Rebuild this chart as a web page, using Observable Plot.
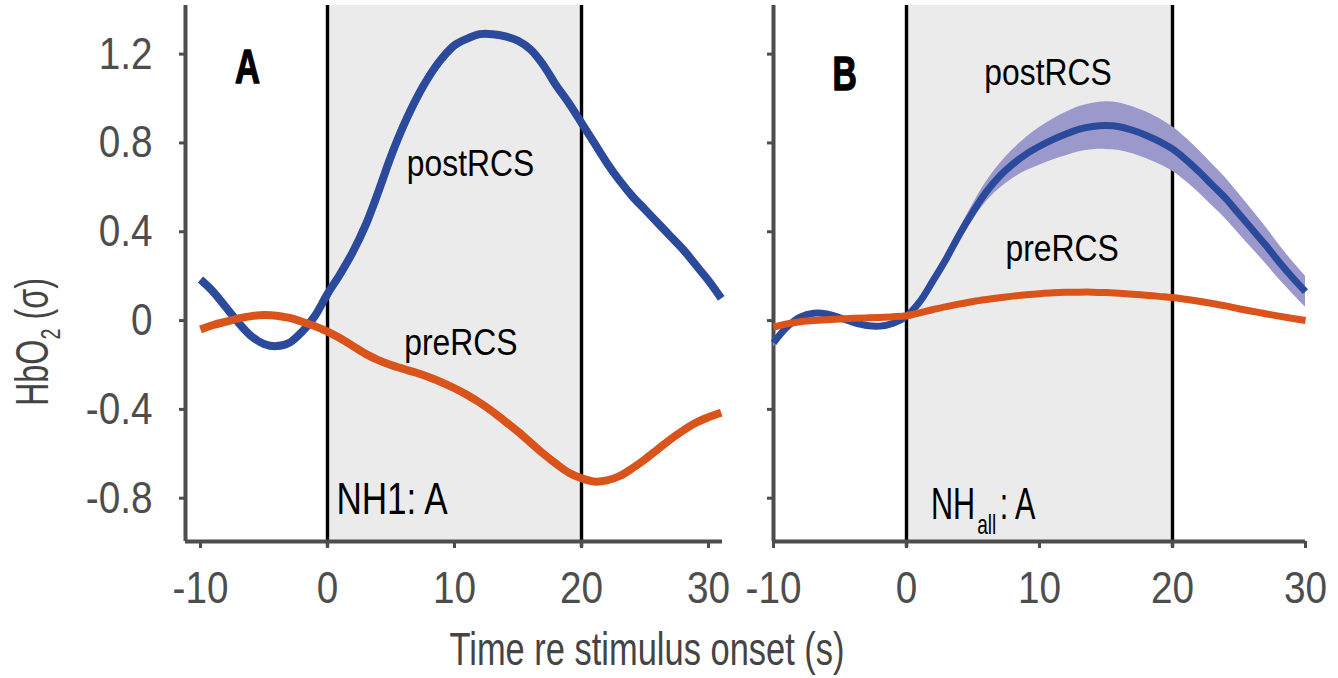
<!DOCTYPE html>
<html>
<head>
<meta charset="utf-8">
<script src="https://cdn.jsdelivr.net/npm/d3@7"></script>
<script src="https://cdn.jsdelivr.net/npm/@observablehq/plot@0.6"></script>
<style>
  body { margin: 0; background: #fff; }
  #root { position: relative; width: 1338px; height: 678px; overflow: hidden; background: #fff; }
  #root > svg { position: absolute; top: 0; }
  #overlay { left: 0; pointer-events: none; }
</style>
</head>
<body>
<div id="root"></div>
<script>
// ---------------- data ----------------
const timeA = [-10,-9,-8,-7,-6,-5,-4,-3,-2,-1,0,1,2,3,4,5,6,7,8,9,10,11,12,13,14,15,16,17,18,19,20,21,22,23,24,25,26,27,28,29,30,31];
const postA = [0.185,0.13,0.06,-0.01,-0.07,-0.105,-0.115,-0.10,-0.05,0.02,0.12,0.21,0.31,0.43,0.58,0.74,0.88,1.00,1.10,1.18,1.24,1.27,1.29,1.29,1.28,1.26,1.22,1.15,1.06,0.98,0.89,0.80,0.71,0.63,0.56,0.50,0.44,0.38,0.32,0.25,0.18,0.10];
const preA = [-0.04,-0.02,-0.005,0.01,0.02,0.025,0.022,0.012,-0.005,-0.025,-0.05,-0.08,-0.115,-0.15,-0.178,-0.20,-0.218,-0.235,-0.255,-0.278,-0.305,-0.335,-0.37,-0.41,-0.455,-0.50,-0.55,-0.60,-0.645,-0.685,-0.71,-0.725,-0.72,-0.70,-0.665,-0.625,-0.58,-0.535,-0.495,-0.46,-0.435,-0.415];

const timeB = [-10,-9,-8,-7,-6,-5,-4,-3,-2,-1,0,1,2,3,4,5,6,7,8,9,10,11,12,13,14,15,16,17,18,19,20,21,22,23,24,25,26,27,28,29,30];
const postB = [-0.10,-0.03,0.015,0.033,0.03,0.012,-0.008,-0.022,-0.025,-0.012,0.02,0.085,0.18,0.28,0.39,0.49,0.58,0.65,0.705,0.75,0.785,0.815,0.84,0.862,0.874,0.878,0.873,0.857,0.835,0.807,0.773,0.725,0.67,0.61,0.55,0.48,0.41,0.34,0.265,0.195,0.13];
const semB = [0.02,0.01,0.005,0.005,0.005,0.005,0.005,0.005,0.005,0.005,0.005,0.008,0.012,0.018,0.025,0.035,0.045,0.055,0.065,0.075,0.085,0.092,0.098,0.102,0.105,0.107,0.107,0.106,0.105,0.103,0.10,0.098,0.096,0.094,0.092,0.09,0.087,0.083,0.078,0.073,0.07];
const preB = [-0.03,-0.015,-0.005,0.0,0.004,0.007,0.01,0.012,0.014,0.017,0.022,0.035,0.05,0.063,0.075,0.086,0.095,0.103,0.11,0.116,0.121,0.125,0.127,0.128,0.128,0.126,0.123,0.119,0.114,0.109,0.104,0.096,0.087,0.077,0.066,0.053,0.042,0.031,0.02,0.01,0.0];

const stimWindow = [0, 20];
const xTicks = [-10, 0, 10, 20, 30];
const xTickLabels = ["-10", "0", "10", "20", "30"];
const yTicks = [-0.8, -0.4, 0, 0.4, 0.8, 1.2];
const yTickLabels = ["-0.8", "-0.4", "0", "0.4", "0.8", "1.2"];

// ---------------- styling ----------------
const FONT = '"Liberation Sans", Arial, sans-serif';
const AXIS = "#4d4d4d";
const BLUE = "#2b4a9c";
const ORANGE = "#d9531a";
const BAND = "#9b99cc";
const SHADE = "#ebebeb";
const yDomain = [-0.995, 1.419];

const tableA = timeA.map((t, i) => ({t, post: postA[i], pre: preA[i]}));
const tableB = timeB.map((t, i) => ({t, post: postB[i], sem: semB[i], pre: preB[i]}));

const fmtX = d => xTickLabels[xTicks.indexOf(d)];
const fmtY = d => yTickLabels[yTicks.findIndex(v => Math.abs(v - d) < 1e-9)];

function frame(xDomain, showYLabels) {
  return [
    Plot.rect([stimWindow], {x1: d => d[0], x2: d => d[1], fill: SHADE}),
    Plot.ruleX(stimWindow, {stroke: "black", strokeWidth: 3.4, insetBottom: -6}),
    Plot.axisX(xTicks, {tickSize: 7, tickPadding: 23, tickFormat: fmtX, color: AXIS, strokeWidth: 3, fontSize: 45, label: null}),
    Plot.axisY(yTicks, {tickSize: 6, tickPadding: 27, tickFormat: showYLabels ? fmtY : () => "", color: AXIS, strokeWidth: 3, fontSize: 45, label: null}),
    Plot.ruleY([yDomain[0]], {stroke: AXIS, strokeWidth: 4}),
    Plot.ruleX([xDomain[0]], {stroke: AXIS, strokeWidth: 4})
  ];
}

// "NH" with subscript "all", then ": A": pieces laid side by side in a horizontally condensed group
function subLabel(main, sub, rest, x, y) {
  return (index, scales) => {
    const x0 = scales.x(x), y0 = scales.y(y);
    const g = d3.create("svg:g").attr("fill", "black").attr("text-anchor", "start")
      .attr("transform", `translate(${x0},${y0}) scale(0.68,1)`);
    const a = g.append("text").attr("x", 0).attr("y", 0).attr("font-size", 45).text(main);
    const b = g.append("text").attr("y", 15).attr("font-size", 28).text(sub);
    const c = g.append("text").attr("y", 0).attr("font-size", 45).text(rest);
    // place pieces after the group is in the document (see layoutSubLabels)
    g.attr("data-sublabel", "1");
    return g.node();
  };
}
function layoutSubLabels(svg) {
  svg.querySelectorAll("g[data-sublabel]").forEach(g => {
    const [a, b, c] = g.querySelectorAll("text");
    const wa = a.getComputedTextLength();
    b.setAttribute("x", wa + 3);
    const wb = b.getComputedTextLength();
    c.setAttribute("x", wa + 3 + wb + 5);
  });
}

const letterStyle = {fontSize: 48, fontWeight: "bold", fill: "black", stroke: "black", strokeWidth: 1.4, lineAnchor: "bottom"};

const xDomainA = [-11.18, 31.1];
const plotA = Plot.plot({
  width: 740, height: 620,
  marginLeft: 185, marginRight: 18, marginTop: 5, marginBottom: 79,
  x: {domain: xDomainA},
  y: {domain: yDomain},
  style: {fontFamily: FONT, fontSize: "45px", background: "transparent", overflow: "visible"},
  marks: [
    ...frame(xDomainA, true),
    Plot.line(tableA, {x: "t", y: "post", stroke: BLUE, strokeWidth: 8, curve: "catmull-rom", strokeLinecap: "butt"}),
    Plot.line(tableA, {x: "t", y: "pre", stroke: ORANGE, strokeWidth: 8, curve: "catmull-rom", strokeLinecap: "butt"}),
    Plot.text(["A"], {x: -6.3, y: 1.068, text: d => d, ...letterStyle}),
    Plot.text(["postRCS"], {x: 11.26, y: 0.649, text: d => d, fontSize: 37, fill: "black", lineAnchor: "bottom"}),
    Plot.text(["preRCS"], {x: 10.5, y: -0.155, text: d => d, fontSize: 37, fill: "black", lineAnchor: "bottom"}),
    Plot.text(["NH1: A"], {x: 0.7, y: -0.869, text: d => d, fontSize: 45, fill: "black", textAnchor: "start", lineAnchor: "bottom"})
  ]
});
plotA.style.left = "0px";

const xDomainB = [-10, 30];
const plotB = Plot.plot({
  width: 598, height: 620,
  marginLeft: 33, marginRight: 33, marginTop: 5, marginBottom: 79,
  x: {domain: xDomainB},
  y: {domain: yDomain},
  style: {fontFamily: FONT, fontSize: "45px", background: "transparent", overflow: "visible"},
  marks: [
    ...frame(xDomainB, false),
    Plot.areaY(tableB, {x: "t", y1: d => d.post - d.sem, y2: d => d.post + d.sem, fill: BAND, curve: "catmull-rom"}),
    Plot.line(tableB, {x: "t", y: "post", stroke: BLUE, strokeWidth: 7, curve: "catmull-rom", strokeLinecap: "butt"}),
    Plot.line(tableB, {x: "t", y: "pre", stroke: ORANGE, strokeWidth: 7, curve: "catmull-rom", strokeLinecap: "butt"}),
    Plot.text(["B"], {x: -4.66, y: 1.04, text: d => d, ...letterStyle}),
    Plot.text(["postRCS"], {x: 10.64, y: 1.059, text: d => d, fontSize: 37, fill: "black", lineAnchor: "bottom"}),
    Plot.text(["preRCS"], {x: 11.7, y: 0.27, text: d => d, fontSize: 37, fill: "black", lineAnchor: "bottom"}),
    subLabel("NH", "all", ": A", 1.88, -0.896)
  ]
});
plotB.style.left = "740px";

const root = document.getElementById("root");
root.appendChild(plotA);
root.appendChild(plotB);
layoutSubLabels(plotB);

// axis titles
const overlay = d3.select(root).append("svg")
  .attr("id", "overlay").attr("width", 1338).attr("height", 678)
  .style("font-family", FONT);
overlay.append("text")
  .attr("x", 647).attr("y", 665).attr("text-anchor", "middle")
  .attr("font-size", 46).attr("fill", "#444")
  .attr("textLength", 395).attr("lengthAdjust", "spacingAndGlyphs")
  .text("Time re stimulus onset (s)");
const yl = overlay.append("text")
  .attr("transform", "translate(48,342) rotate(-90)")
  .attr("text-anchor", "middle").attr("font-size", 46).attr("fill", "#444")
  .attr("textLength", 128).attr("lengthAdjust", "spacingAndGlyphs");
yl.append("tspan").text("HbO");
yl.append("tspan").attr("font-size", 28).attr("dy", 12).text("2");
yl.append("tspan").attr("dy", -12).text(" (σ)");

// narrow the glyphs to mimic the condensed typeface of the original
const narrowBy = {"A": 0.72, "B": 0.7, "NH1: A": 0.78};
[plotA, plotB].forEach(svg => {
  svg.querySelectorAll("text").forEach(t => {
    if (t.closest("g[data-sublabel]")) return;
    if (t.hasAttribute("textLength")) return;
    const len = t.getComputedTextLength();
    if (!(len > 0)) return;
    const f = narrowBy[t.textContent] ?? 0.86;
    t.setAttribute("textLength", (len * f).toFixed(1));
    t.setAttribute("lengthAdjust", "spacingAndGlyphs");
  });
});
</script>
</body>
</html>
